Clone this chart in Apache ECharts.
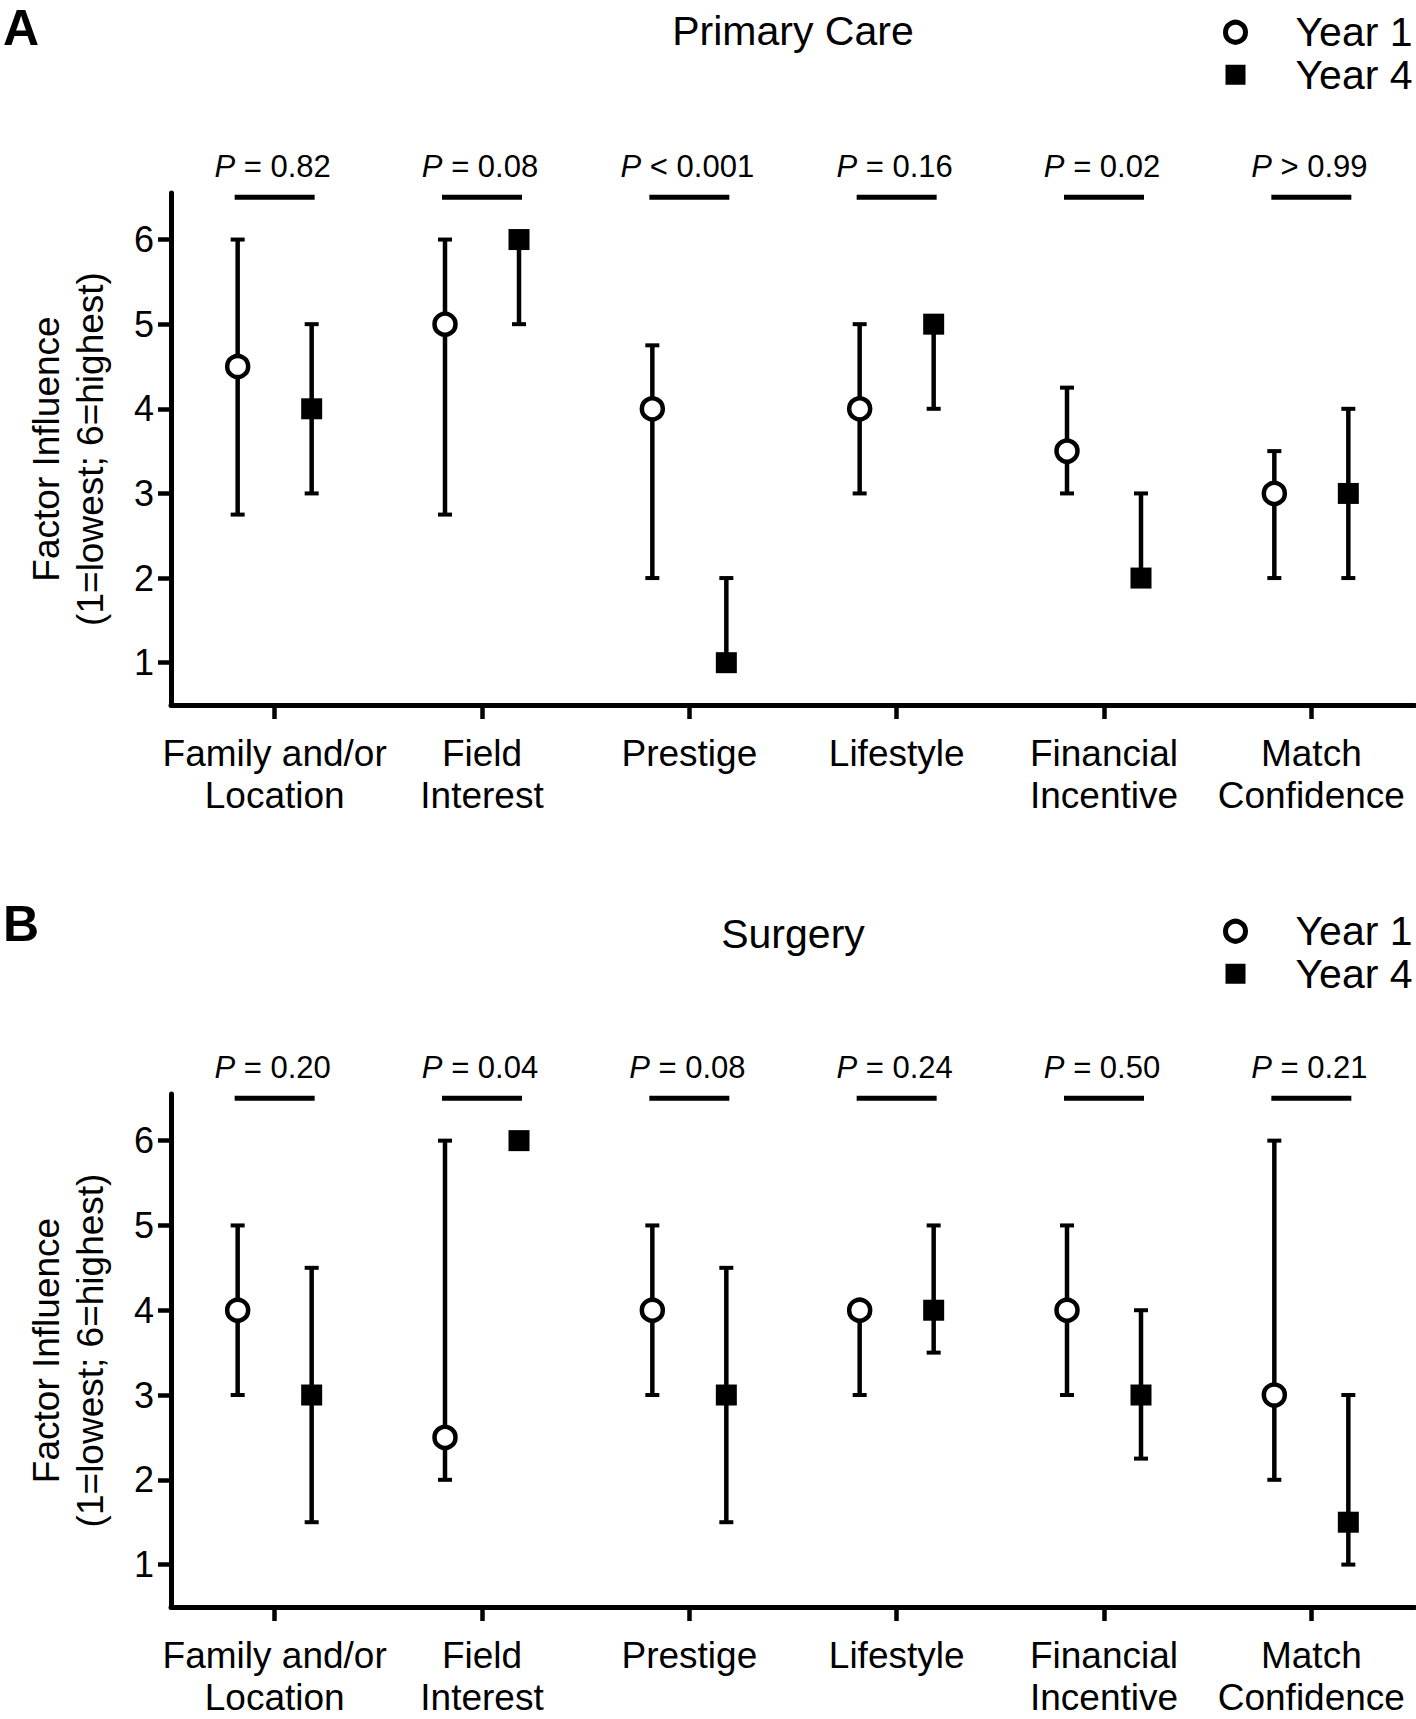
<!DOCTYPE html>
<html><head><meta charset="utf-8">
<script src="https://cdn.jsdelivr.net/npm/echarts@6/dist/echarts.min.js"></script>
<style>html,body{margin:0;padding:0;background:#fff}#c{width:1416px;height:1719px}</style>
</head><body><div id="c"></div>
<script>
const categories = ['Family and/or\nLocation','Field\nInterest','Prestige','Lifestyle','Financial\nIncentive','Match\nConfidence'];
const yTicks = [1,2,3,4,5,6];
const seriesNames = ['Year 1','Year 4'];
// Panel A: Primary Care
const pcYear1Median = [4.5, 5, 4, 4, 3.5, 3];
const pcYear1Low    = [2.75, 2.75, 2, 3, 3, 2];
const pcYear1High   = [6, 6, 4.75, 5, 4.25, 3.5];
const pcYear4Median = [4, 6, 1, 5, 2, 3];
const pcYear4Low    = [3, 5, 1, 4, 2, 2];
const pcYear4High   = [5, 6, 2, 5, 3, 4];
const pcPValues = ['= 0.82', '= 0.08', '< 0.001', '= 0.16', '= 0.02', '> 0.99'];
// Panel B: Surgery
const sgYear1Median = [4, 2.5, 4, 4, 4, 3];
const sgYear1Low    = [3, 2, 3, 3, 3, 2];
const sgYear1High   = [5, 6, 5, 4, 5, 6];
const sgYear4Median = [3, 6, 3, 4, 3, 1.5];
const sgYear4Low    = [1.5, 6, 1.5, 3.5, 2.25, 1];
const sgYear4High   = [4.5, 6, 4.5, 5, 4, 3];
const sgPValues = ['= 0.20', '= 0.04', '= 0.08', '= 0.24', '= 0.50', '= 0.21'];

const FONT = "'Liberation Sans', Arial, Helvetica, sans-serif";
const OFF = 37;          // horizontal offset of year groups (px)
const P_BAR_Y = 6.5;     // level of p-value bar (axis units)
const P_TEXT_Y = 6.86;   // level of p-value text

function errorBarRender(dx) {
  return function (params, api) {
    const cat = api.value(0);
    const lo = api.coord([cat, api.value(1)]);
    const hi = api.coord([cat, api.value(2)]);
    const x = lo[0] + dx;
    const cap = 7;
    const st = { stroke: '#000', lineWidth: 4.5 };
    return { type: 'group', children: [
      { type: 'line', shape: { x1: x, y1: lo[1], x2: x, y2: hi[1] }, style: st },
      { type: 'line', shape: { x1: x - cap, y1: lo[1], x2: x + cap, y2: lo[1] }, style: { stroke: '#000', lineWidth: 4 } },
      { type: 'line', shape: { x1: x - cap, y1: hi[1], x2: x + cap, y2: hi[1] }, style: { stroke: '#000', lineWidth: 4 } }
    ]};
  };
}
function pRender(labels) {
  return function (params, api) {
    const cat = api.value(0);
    const b = api.coord([cat, P_BAR_Y]);
    const t = api.coord([cat, P_TEXT_Y]);
    const half = 40;
    return { type: 'group', children: [
      { type: 'line', shape: { x1: b[0] - half, y1: b[1], x2: b[0] + half, y2: b[1] }, style: { stroke: '#000', lineWidth: 5 } },
      { type: 'text', x: t[0] - 2, y: t[1], style: {
          text: '{i|P} ' + labels[params.dataIndex],
          rich: { i: { fontStyle: 'italic', fontSize: 31, fontFamily: FONT, fill: '#000' } },
          fontSize: 31, fontFamily: FONT, fill: '#000', align: 'center', verticalAlign: 'middle' } }
    ]};
  };
}
function ranges(lo, hi) { return categories.map((c, i) => [i, lo[i], hi[i]]); }
function pData() { return categories.map((c, i) => [i, P_BAR_Y]); }

function panelSeries(idx, y1m, y1l, y1h, y4m, y4l, y4h, pv) {
  return [
    { type: 'custom', name: 'err1', xAxisIndex: idx, yAxisIndex: idx, renderItem: errorBarRender(-OFF), data: ranges(y1l, y1h), z: 2, silent: true, clip: false },
    { type: 'custom', name: 'err4', xAxisIndex: idx, yAxisIndex: idx, renderItem: errorBarRender(OFF), data: ranges(y4l, y4h), z: 2, silent: true, clip: false },
    { type: 'scatter', name: seriesNames[0], xAxisIndex: idx, yAxisIndex: idx, data: y1m, symbol: 'circle', symbolSize: 21, symbolOffset: [-OFF, 0],
      itemStyle: { color: '#fff', borderColor: '#000', borderWidth: 4.5, opacity: 1 }, z: 5 },
    { type: 'scatter', name: seriesNames[1], xAxisIndex: idx, yAxisIndex: idx, data: y4m, symbol: 'rect', symbolSize: 21, symbolOffset: [OFF, 0],
      itemStyle: { color: '#000', opacity: 1 }, z: 5 },
    { type: 'custom', name: 'pvals', xAxisIndex: idx, yAxisIndex: idx, renderItem: pRender(pv), data: pData(), z: 4, silent: true, clip: false }
  ];
}

function xAxisCfg(gi) {
  return { type: 'category', gridIndex: gi, data: categories, boundaryGap: true,
    axisLine: { show: true, onZero: false, lineStyle: { color: '#000', width: 5 } },
    axisTick: { show: true, alignWithLabel: true, length: 14, lineStyle: { color: '#000', width: 4.5 } },
    axisLabel: { interval: 0, color: '#000', fontSize: 37, lineHeight: 42, fontFamily: FONT, margin: 27 },
    splitLine: { show: false } };
}
function yAxisCfg(gi) {
  return { type: 'value', gridIndex: gi, min: 0.5, max: 6.55,
    name: 'Factor Influence\n(1=lowest; 6=highest)', nameLocation: 'middle', nameGap: 59, nameRotate: 90,
    nameTextStyle: { color: '#000', fontSize: 37, lineHeight: 44, fontFamily: FONT },
    axisLine: { show: true, lineStyle: { color: '#000', width: 5 } },
    axisTick: { show: true, length: 13, customValues: yTicks, lineStyle: { color: '#000', width: 4.5 } },
    axisLabel: { customValues: yTicks, color: '#000', fontSize: 36, fontFamily: FONT, margin: 17 },
    splitLine: { show: false } };
}
function legendCfg(top) {
  return { orient: 'vertical', left: 1223, top: top, itemWidth: 20, itemHeight: 20, itemGap: 0, selectedMode: false, padding: 0,
    data: [ { name: 'Year 1', icon: 'circle', itemStyle: { color: '#fff', borderColor: '#000', borderWidth: 5 } },
            { name: 'Year 4', icon: 'rect', itemStyle: { color: '#000', borderWidth: 0 } } ],
    textStyle: { color: '#000', fontSize: 41, lineHeight: 42.5, fontFamily: FONT, padding: [0, 0, 0, 45] } };
}

const chart = echarts.init(document.getElementById('c'), null, { renderer: 'svg', width: 1416, height: 1719 });
chart.setOption({
  backgroundColor: '#fff',
  animation: false,
  title: [
    { text: 'A', left: 3, top: 6, padding: 0, textStyle: { fontSize: 50, fontWeight: 'bold', lineHeight: 44, color: '#000', fontFamily: FONT } },
    { text: 'Primary Care', left: 793, textAlign: 'center', top: 10, padding: 0, textStyle: { fontSize: 41, fontWeight: 'normal', lineHeight: 42, color: '#000', fontFamily: FONT } },
    { text: 'B', left: 3, top: 902, padding: 0, textStyle: { fontSize: 50, fontWeight: 'bold', lineHeight: 44, color: '#000', fontFamily: FONT } },
    { text: 'Surgery', left: 793, textAlign: 'center', top: 913, padding: 0, textStyle: { fontSize: 41, fontWeight: 'normal', lineHeight: 42, color: '#000', fontFamily: FONT } }
  ],
  legend: [ legendCfg(11), legendCfg(910) ],
  grid: [
    { left: 171, top: 193, width: 1244, height: 512, containLabel: false, outerBoundsMode: 'none' },
    { left: 171, top: 1094, width: 1244, height: 513, containLabel: false, outerBoundsMode: 'none' }
  ],
  xAxis: [ xAxisCfg(0), xAxisCfg(1) ],
  yAxis: [ yAxisCfg(0), yAxisCfg(1) ],
  series: [].concat(
    panelSeries(0, pcYear1Median, pcYear1Low, pcYear1High, pcYear4Median, pcYear4Low, pcYear4High, pcPValues),
    panelSeries(1, sgYear1Median, sgYear1Low, sgYear1High, sgYear4Median, sgYear4Low, sgYear4High, sgPValues)
  )
});
</script></body></html>
